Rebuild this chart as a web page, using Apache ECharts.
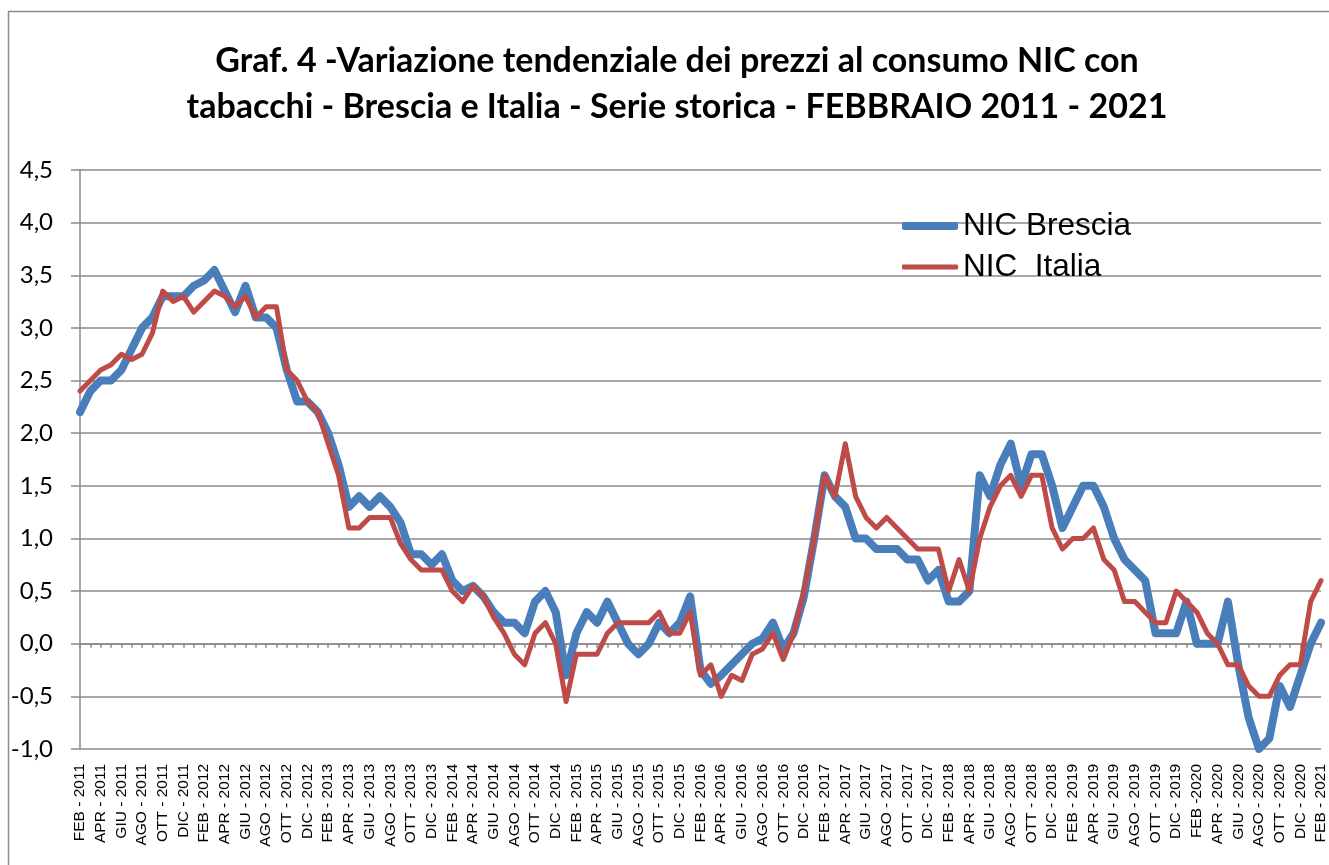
<!DOCTYPE html>
<html>
<head>
<meta charset="utf-8">
<script src="https://cdn.jsdelivr.net/npm/echarts@6/dist/echarts.min.js"></script>
<style>
  html, body { margin: 0; padding: 0; background: #fff; }
  #chart { width: 1329px; height: 865px; }
</style>
</head>
<body>
<div id="chart"></div>
<script>
  // month names used on the category axis, series runs FEB 2011 .. FEB 2021
  const monthNames = ["GEN", "FEB", "MAR", "APR", "MAG", "GIU", "LUG", "AGO", "SET", "OTT", "NOV", "DIC"];
  const startYear = 2011;
  const startMonth = 1;
  const monthCount = 121;

  const yTicks = [-1.0, -0.5, 0.0, 0.5, 1.0, 1.5, 2.0, 2.5, 3.0, 3.5, 4.0, 4.5];

  const nicBrescia = [
    2.2, 2.4, 2.5, 2.5, 2.6, 2.8, 3.0, 3.1, 3.3, 3.3, 3.3, 3.4,
    3.45, 3.55, 3.35, 3.15, 3.4, 3.1, 3.1, 3.0, 2.6, 2.3, 2.3, 2.2,
    2.0, 1.7, 1.3, 1.4, 1.3, 1.4, 1.3, 1.15, 0.85, 0.85, 0.75, 0.85,
    0.6, 0.5, 0.55, 0.45, 0.3, 0.2, 0.2, 0.1, 0.4, 0.5, 0.3, -0.3,
    0.1, 0.3, 0.2, 0.4, 0.2, 0.0, -0.1, 0.0, 0.2, 0.1, 0.2, 0.45,
    -0.25, -0.38, -0.3, -0.2, -0.1, 0.0, 0.05, 0.2, -0.05, 0.1, 0.45, 1.0,
    1.6, 1.4, 1.3, 1.0, 1.0, 0.9, 0.9, 0.9, 0.8, 0.8, 0.6, 0.7,
    0.4, 0.4, 0.5, 1.6, 1.4, 1.7, 1.9, 1.5, 1.8, 1.8, 1.5, 1.1,
    1.3, 1.5, 1.5, 1.3, 1.0, 0.8, 0.7, 0.6, 0.1, 0.1, 0.1, 0.4,
    0.0, 0.0, 0.0, 0.4, -0.2, -0.7, -1.0, -0.9, -0.4, -0.6, -0.3, 0.0,
    0.2
  ];

  const nicItalia = [
    2.4, 2.5, 2.6, 2.65, 2.75, 2.7, 2.75, 2.95, 3.35, 3.25, 3.3, 3.15,
    3.25, 3.35, 3.3, 3.2, 3.3, 3.1, 3.2, 3.2, 2.6, 2.5, 2.3, 2.2,
    1.9, 1.6, 1.1, 1.1, 1.2, 1.2, 1.2, 0.95, 0.8, 0.7, 0.7, 0.7,
    0.5, 0.4, 0.55, 0.45, 0.25, 0.1, -0.1, -0.2, 0.1, 0.2, 0.0, -0.55,
    -0.1, -0.1, -0.1, 0.1, 0.2, 0.2, 0.2, 0.2, 0.3, 0.1, 0.1, 0.3,
    -0.3, -0.2, -0.5, -0.3, -0.35, -0.1, -0.05, 0.1, -0.15, 0.1, 0.5, 1.0,
    1.6, 1.4, 1.9, 1.4, 1.2, 1.1, 1.2, 1.1, 1.0, 0.9, 0.9, 0.9,
    0.5, 0.8, 0.5, 1.0, 1.3, 1.5, 1.6, 1.4, 1.6, 1.6, 1.1, 0.9,
    1.0, 1.0, 1.1, 0.8, 0.7, 0.4, 0.4, 0.3, 0.2, 0.2, 0.5, 0.4,
    0.3, 0.1, 0.0, -0.2, -0.2, -0.4, -0.5, -0.5, -0.3, -0.2, -0.2, 0.4,
    0.6
  ];

  const categories = [];
  for (let k = 0; k < monthCount; k++) {
    const m = (startMonth + k) % 12;
    const y = startYear + Math.floor((startMonth + k) / 12);
    categories.push(monthNames[m] + " - " + y);
  }
  categories[108] = "FEB -2020"; // as written in the original

  const gridColor = "#8a8a8a";
  const chart = echarts.init(document.getElementById("chart"));

  chart.setOption({
    backgroundColor: "#fff",
    animation: false,
    graphic: [{
      type: "rect",
      shape: { x: 8.5, y: 11.5, width: 1400, height: 900 },
      style: { fill: "none", stroke: "#8c8c8c", lineWidth: 1.5 },
      silent: true
    }],
    title: {
      text: "Graf. 4 -Variazione tendenziale dei prezzi al consumo NIC con\ntabacchi - Brescia e Italia - Serie storica - FEBBRAIO 2011 - 2021",
      left: 672,
      top: 33,
      textAlign: "center",
      textStyle: {
        fontFamily: "Lato",
        fontWeight: "bold",
        fontSize: 34,
        lineHeight: 46,
        color: "#000"
      }
    },
    legend: [
      {
        data: ["NIC Brescia"],
        left: 902,
        top: 208,
        icon: "roundRect",
        itemWidth: 56,
        itemHeight: 8,
        itemGap: 0,
        padding: 0,
        textStyle: { fontFamily: "Liberation Sans", fontSize: 31.5, lineHeight: 36, color: "#000" }
      },
      {
        data: ["NIC  Italia"],
        left: 902,
        top: 249,
        icon: "roundRect",
        itemWidth: 56,
        itemHeight: 5,
        itemGap: 0,
        padding: 0,
        textStyle: { fontFamily: "Liberation Sans", fontSize: 31.5, lineHeight: 36, color: "#000" }
      }
    ],
    grid: { left: 80, right: 6, top: 170, bottom: 116, containLabel: false },
    xAxis: [
      {
        // labels along the bottom of the plot
        type: "category",
        data: categories,
        boundaryGap: false,
        position: "bottom",
        axisLine: { show: false, onZero: false },
        axisTick: { show: false },
        splitLine: { show: false },
        axisLabel: {
          interval: 1,
          rotate: 90,
          margin: 15,
          fontFamily: "Liberation Sans",
          fontSize: 15.5,
          color: "#000"
        }
      },
      {
        // axis line with monthly ticks crossing at 0
        type: "category",
        data: categories,
        boundaryGap: false,
        position: "bottom",
        axisLine: { show: true, onZero: true, lineStyle: { color: gridColor, width: 1.5 } },
        axisTick: { show: true, interval: 0, inside: false, length: 4, lineStyle: { color: gridColor, width: 1.5 } },
        axisLabel: { show: false },
        splitLine: { show: false }
      }
    ],
    yAxis: {
      type: "value",
      min: yTicks[0],
      max: yTicks[yTicks.length - 1],
      interval: 0.5,
      axisLine: { show: true, onZero: false, lineStyle: { color: gridColor, width: 1.5 } },
      axisTick: { show: true, length: 9, lineStyle: { color: gridColor, width: 1.5 } },
      splitLine: { show: true, lineStyle: { color: gridColor, width: 1.5 } },
      axisLabel: {
        margin: 27,
        fontFamily: "Lato",
        fontSize: 24,
        color: "#000",
        formatter: v => v.toFixed(1).replace(".", ",")
      }
    },
    series: [
      {
        name: "NIC Brescia",
        type: "line",
        data: nicBrescia,
        showSymbol: false,
        symbol: "none",
        itemStyle: { color: "#4A7EBB" },
        lineStyle: { color: "#4A7EBB", width: 8, join: "round", cap: "round" }
      },
      {
        name: "NIC  Italia",
        type: "line",
        data: nicItalia,
        showSymbol: false,
        symbol: "none",
        itemStyle: { color: "#BE4B48" },
        lineStyle: { color: "#BE4B48", width: 5, join: "round", cap: "round" }
      }
    ]
  });
</script>
</body>
</html>
